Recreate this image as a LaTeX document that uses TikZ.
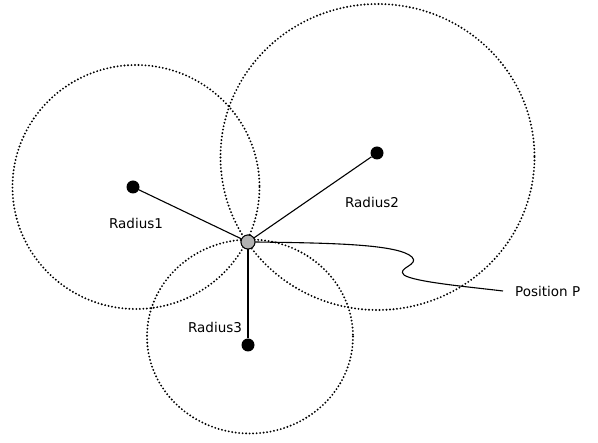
\documentclass[tikz,border=0pt]{standalone}
\usepackage{fontspec}
\setmainfont{DejaVu Sans}
\begin{document}
\begin{tikzpicture}[x=1pt,y=-1pt,
  ring/.style={line width=2.1pt,dash pattern=on 0pt off 3.5pt,line cap=round},
  ctr/.style={circle,fill=black,inner sep=0pt,minimum size=13pt},
  posdot/.style={circle,draw=black,line width=0.9pt,fill=gray!60,inner sep=0pt,minimum size=14pt},
  lbl/.style={font=\fontsize{13.5}{16}\selectfont,inner sep=0pt},
  ray/.style={line width=1.1pt}]
\useasboundingbox (0,0) rectangle (598,443);
% circles
\draw[ring] (136,187) ellipse [x radius=123.5, y radius=122];
\draw[ring] (377.5,157) ellipse [x radius=157, y radius=153];
\draw[ring] (250,336.5) ellipse [x radius=103, y radius=97];
% nodes
\node[ctr] (c1) at (133,187) {};
\node[ctr] (c2) at (377,153) {};
\node[ctr] (c3) at (248,345) {};
\node[posdot] (p) at (248,242) {};
\draw[ray] (p) -- (c1);
\draw[ray] (p) -- (c2);
\draw[ray] (p) -- (c3);
\node[posdot] at (p) {};
% labels
\node[lbl] (r1) at (136,223) {Radius1};
\node[lbl] (r2) at (372,202) {Radius2};
\node[lbl] (r3) at (215,327) {Radius3};
\node[lbl,anchor=west] (pp) at (515,291) {Position P};
% wiggly connector
\draw[ray] (p.east) .. controls (330,243) and (398,244) .. (412,257)
  .. controls (420,265) and (396,268) .. (404,275)
  .. controls (414,282) and (470,287) .. ([xshift=-12pt]pp.west);
\end{tikzpicture}
\end{document}
